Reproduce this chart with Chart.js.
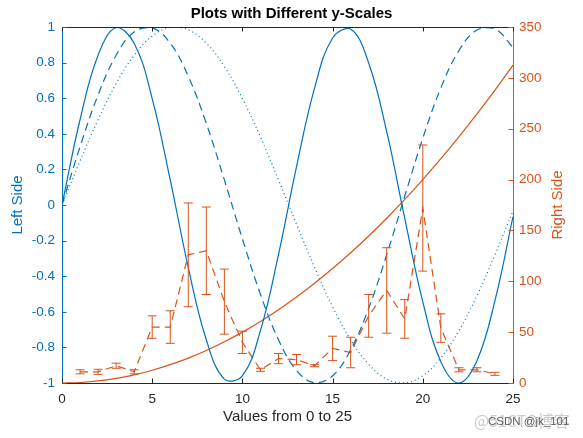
<!DOCTYPE html>
<html>
<head>
<meta charset="utf-8">
<script src="https://cdn.jsdelivr.net/npm/chart.js@4.4.0/dist/chart.umd.min.js"></script>
<style>
  body { margin: 0; background: #fff; }
  canvas { display: block; }
</style>
</head>
<body>
<canvas id="myChart" width="583" height="438"></canvas>
<script>
// sample positions along x
var xValues = [0, 1, 2, 3, 4, 5, 6, 7, 8, 9, 10, 11, 12, 13, 14, 15, 16, 17, 18, 19, 20, 21, 22, 23, 24, 25];

// left side curves
var leftSolid = [0, 0.479, 0.841, 0.997, 0.909, 0.598, 0.141, -0.351, -0.757, -0.978, -0.959, -0.706, -0.279,
  0.215, 0.657, 0.938, 0.989, 0.798, 0.412, -0.075, -0.544, -0.880, -1.0, -0.875, -0.537, -0.066];
var leftDashed = [0, 0.327, 0.618, 0.841, 0.972, 0.995, 0.909, 0.723, 0.458, 0.141, -0.190, -0.502, -0.757,
  -0.929, -0.999, -0.959, -0.814, -0.580, -0.279, 0.050, 0.375, 0.657, 0.867, 0.983, 0.989, 0.886];
var leftDotted = [0, 0.247, 0.479, 0.682, 0.841, 0.949, 0.997, 0.984, 0.909, 0.778, 0.598, 0.382, 0.141,
  -0.108, -0.351, -0.572, -0.757, -0.895, -0.978, -0.999, -0.959, -0.859, -0.706, -0.510, -0.279, -0.033];

// right side curve
var rightCurve = [0, 0.5, 2, 4.5, 8, 12.5, 18, 24.5, 32, 40.5, 50, 60.5, 72, 84.5, 98, 112.5, 128, 144.5,
  162, 180.5, 200, 220.5, 242, 264.5, 288, 312.5];

// right side error bar series
var errX = [1, 2, 3, 4, 5, 6, 7, 8, 9, 10, 11, 12, 13, 14, 15, 16, 17, 18, 19, 20, 21, 22, 23, 24];
var errMean = [11, 11, 17, 11, 55, 55, 126, 130, 80, 40, 13, 24, 23, 17, 34, 30, 66, 91, 63, 172, 54, 13, 13, 9];
var errSize = [2, 2.5, 2.5, 2, 11, 16, 51, 43, 32, 11, 1.5, 5, 5, 1, 12, 15, 21, 42, 19, 62, 14, 2, 2, 1.5];

var blue = "#0072BD";
var orange = "#D95319";
var axisGray = "#262626";
var fontFamily = "'Liberation Sans', Arial, Helvetica, sans-serif";

function toPoints(xs, ys) {
  return xs.map(function (x, i) {
    return { x: x, y: ys[i] };
  });
}

// error bars drawn through the chart's own scales
var errorBarPlugin = {
  id: "errorBars",
  afterDatasetsDraw: function (chart) {
    var ctx = chart.ctx;
    var xs = chart.scales.x;
    var ys = chart.scales.y1;
    var area = chart.chartArea;
    ctx.save();
    ctx.beginPath();
    ctx.rect(area.left, area.top, area.right - area.left, area.bottom - area.top);
    ctx.clip();
    ctx.strokeStyle = orange;
    ctx.lineWidth = 1;
    errX.forEach(function (x, i) {
      var px = xs.getPixelForValue(x);
      var top = ys.getPixelForValue(errMean[i] + errSize[i]);
      var bot = ys.getPixelForValue(errMean[i] - errSize[i]);
      ctx.beginPath();
      ctx.moveTo(px, top);
      ctx.lineTo(px, bot);
      ctx.moveTo(px - 4.5, top);
      ctx.lineTo(px + 4.5, top);
      ctx.moveTo(px - 4.5, bot);
      ctx.lineTo(px + 4.5, bot);
      ctx.stroke();
    });
    ctx.restore();
  },
};

// MATLAB style box: inward ticks, top border, axis titles
var decorPlugin = {
  id: "decor",
  afterDraw: function (chart) {
    var ctx = chart.ctx;
    var a = chart.chartArea;
    var len = 4.5;
    ctx.save();
    ctx.lineWidth = 1;

    ctx.strokeStyle = axisGray;
    ctx.beginPath();
    ctx.moveTo(a.left, a.top + 0.5);
    ctx.lineTo(a.right, a.top + 0.5);
    chart.scales.x.ticks.forEach(function (t) {
      var px = Math.round(chart.scales.x.getPixelForValue(t.value)) + 0.5;
      ctx.moveTo(px, a.bottom);
      ctx.lineTo(px, a.bottom - len);
      ctx.moveTo(px, a.top);
      ctx.lineTo(px, a.top + len);
    });
    ctx.stroke();

    ctx.strokeStyle = blue;
    ctx.beginPath();
    chart.scales.y.ticks.forEach(function (t) {
      var py = Math.round(chart.scales.y.getPixelForValue(t.value)) + 0.5;
      ctx.moveTo(a.left, py);
      ctx.lineTo(a.left + len, py);
    });
    ctx.stroke();

    ctx.strokeStyle = orange;
    ctx.beginPath();
    chart.scales.y1.ticks.forEach(function (t) {
      var py = Math.round(chart.scales.y1.getPixelForValue(t.value)) + 0.5;
      ctx.moveTo(a.right, py);
      ctx.lineTo(a.right - len, py);
    });
    ctx.stroke();

    ctx.font = "15px " + fontFamily;
    ctx.textAlign = "center";
    ctx.textBaseline = "middle";
    ctx.fillStyle = axisGray;
    ctx.fillText("Values from 0 to 25", (a.left + a.right) / 2, 417);

    ctx.save();
    ctx.translate(18, (a.top + a.bottom) / 2);
    ctx.rotate(-Math.PI / 2);
    ctx.fillStyle = blue;
    ctx.fillText("Left Side", 0, 0);
    ctx.restore();

    ctx.save();
    ctx.translate(558, (a.top + a.bottom) / 2);
    ctx.rotate(-Math.PI / 2);
    ctx.fillStyle = orange;
    ctx.fillText("Right Side", 0, 0);
    ctx.restore();

    // watermark
    ctx.textAlign = "left";
    ctx.font = "16px 'Noto Sans CJK SC', sans-serif";
    ctx.fillStyle = "rgba(195,195,195,0.85)";
    ctx.fillText("@51CTO博客", 474, 421);
    ctx.font = "11.5px " + fontFamily;
    ctx.fillStyle = "#5a5a5a";
    ctx.fillText("CSDN @jk_101", 488, 422);

    ctx.restore();
  },
};

var ctx = document.getElementById("myChart").getContext("2d");
var myChart = new Chart(ctx, {
  type: "line",
  data: {
    datasets: [
      {
        label: "sin left solid",
        data: toPoints(xValues, leftSolid),
        yAxisID: "y",
        borderColor: blue,
        borderWidth: 1.2,
        pointRadius: 0,
        tension: 0.4,
      },
      {
        label: "sin left dashed",
        data: toPoints(xValues, leftDashed),
        yAxisID: "y",
        borderColor: blue,
        borderWidth: 1.2,
        borderDash: [8, 5],
        pointRadius: 0,
        tension: 0.4,
      },
      {
        label: "sin left dotted",
        data: toPoints(xValues, leftDotted),
        yAxisID: "y",
        borderColor: blue,
        borderWidth: 1.2,
        borderDash: [1, 3],
        pointRadius: 0,
        tension: 0.4,
      },
      {
        label: "right curve",
        data: toPoints(xValues, rightCurve),
        yAxisID: "y1",
        borderColor: orange,
        borderWidth: 1.2,
        pointRadius: 0,
        tension: 0.4,
      },
      {
        label: "right errorbar",
        data: toPoints(errX, errMean),
        yAxisID: "y1",
        borderColor: orange,
        borderWidth: 1.2,
        borderDash: [8, 5],
        pointRadius: 0,
        tension: 0,
      },
    ],
  },
  options: {
    responsive: false,
    animation: false,
    events: [],
    plugins: {
      legend: { display: false },
      tooltip: { enabled: false },
      title: {
        display: true,
        text: "Plots with Different y-Scales",
        color: "#000",
        font: { family: fontFamily, size: 15, weight: "bold" },
        padding: { top: 5, bottom: 4 },
      },
    },
    scales: {
      x: {
        type: "linear",
        min: 0,
        max: 25,
        grid: { display: false, drawTicks: false },
        border: { display: true, color: axisGray, width: 1 },
        ticks: {
          stepSize: 5,
          color: axisGray,
          padding: 8,
          maxRotation: 0,
          font: { family: fontFamily, size: 13.5 },
        },
        afterFit: function (scale) {
          scale.height = 55;
        },
      },
      y: {
        position: "left",
        min: -1,
        max: 1,
        grid: { display: false, drawTicks: false },
        border: { display: true, color: blue, width: 1 },
        ticks: {
          stepSize: 0.2,
          color: blue,
          padding: 7,
          font: { family: fontFamily, size: 13.5 },
          callback: function (v) {
            return String(Math.round(v * 10) / 10);
          },
        },
        afterFit: function (scale) {
          scale.width = 62;
        },
      },
      y1: {
        position: "right",
        min: 0,
        max: 350,
        grid: { display: false, drawTicks: false },
        border: { display: true, color: orange, width: 1 },
        ticks: {
          stepSize: 50,
          color: orange,
          padding: 6,
          font: { family: fontFamily, size: 13.5 },
        },
        afterFit: function (scale) {
          scale.width = 70;
        },
      },
    },
  },
  plugins: [errorBarPlugin, decorPlugin],
});
</script>
</body>
</html>
